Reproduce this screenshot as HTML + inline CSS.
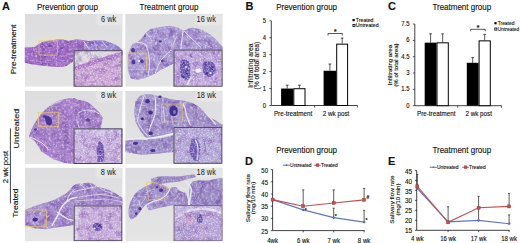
<!DOCTYPE html>
<html><head><meta charset="utf-8"><style>
html,body{margin:0;padding:0;background:#fff;}
body{width:520px;height:243px;overflow:hidden;}
svg{display:block;}
text{font-family:"Liberation Sans",sans-serif;stroke:#222;stroke-width:0.12px;paint-order:stroke;}
</style></head><body>
<svg width="520" height="243" viewBox="0 0 520 243" font-family="Liberation Sans, sans-serif">
<defs>
<linearGradient id="bgg" x1="0" y1="0" x2="0" y2="1"><stop offset="0" stop-color="#dddddf"/><stop offset="1" stop-color="#e5e5e6"/></linearGradient>
<filter id="spk" filterUnits="userSpaceOnUse" x="0" y="0" width="520" height="243" color-interpolation-filters="sRGB">
 <feTurbulence type="fractalNoise" baseFrequency="0.13" numOctaves="2" seed="7" result="lf"/>
 <feColorMatrix in="lf" type="matrix" values="0 0 0 0 0.42  0 0 0 0 0.25  0 0 0 0 0.62  1.5 0 0 0 -0.62" result="lfd"/>
 <feComposite in="lfd" in2="SourceAlpha" operator="in" result="lfd2"/>
 <feTurbulence type="fractalNoise" baseFrequency="0.45" numOctaves="2" seed="4" result="n"/>
 <feColorMatrix in="n" type="matrix" values="0 0 0 0 1  0 0 0 0 0.97  0 0 0 0 1  0 0 1.3 0 -0.6" result="w"/>
 <feComposite in="w" in2="SourceAlpha" operator="in" result="w2"/>
 <feColorMatrix in="n" type="matrix" values="0 0 0 0 0.4  0 0 0 0 0.25  0 0 0 0 0.6  0.6 0 0 0 -0.33" result="d"/>
 <feComposite in="d" in2="SourceAlpha" operator="in" result="d2"/>
 <feMerge result="m"><feMergeNode in="SourceGraphic"/><feMergeNode in="lfd2"/><feMergeNode in="w2"/><feMergeNode in="d2"/></feMerge>
 <feGaussianBlur in="m" stdDeviation="0.3"/>
</filter>
<filter id="spk2" filterUnits="userSpaceOnUse" x="0" y="0" width="520" height="243" color-interpolation-filters="sRGB">
 <feTurbulence type="fractalNoise" baseFrequency="0.16" numOctaves="2" seed="11" result="lf"/>
 <feColorMatrix in="lf" type="matrix" values="0 0 0 0 0.5  0 0 0 0 0.32  0 0 0 0 0.66  1.4 0 0 0 -0.6" result="lfd"/>
 <feComposite in="lfd" in2="SourceAlpha" operator="in" result="lfd2"/>
 <feTurbulence type="fractalNoise" baseFrequency="0.6" numOctaves="2" seed="9" result="n"/>
 <feColorMatrix in="n" type="matrix" values="0 0 0 0 1  0 0 0 0 0.97  0 0 0 0 1  0 0 1.5 0 -0.66" result="w"/>
 <feComposite in="w" in2="SourceAlpha" operator="in" result="w2"/>
 <feColorMatrix in="n" type="matrix" values="0 0 0 0 0.45  0 0 0 0 0.3  0 0 0 0 0.65  0.6 0 0 0 -0.33" result="d"/>
 <feComposite in="d" in2="SourceAlpha" operator="in" result="d2"/>
 <feMerge result="m"><feMergeNode in="SourceGraphic"/><feMergeNode in="lfd2"/><feMergeNode in="w2"/><feMergeNode in="d2"/></feMerge>
 <feGaussianBlur in="m" stdDeviation="0.3"/>
</filter>
<linearGradient id="g1" gradientUnits="userSpaceOnUse" x1="24" y1="0" x2="123" y2="0"><stop offset="0" stop-color="#a06ac4"/><stop offset="0.55" stop-color="#a26ec6"/><stop offset="0.68" stop-color="#9c88d0"/><stop offset="1" stop-color="#9c8ed2"/></linearGradient>
<filter id="bl1" x="-50%" y="-50%" width="200%" height="200%"><feGaussianBlur stdDeviation="0.6"/></filter>
<filter id="bl2" x="-50%" y="-50%" width="200%" height="200%"><feGaussianBlur stdDeviation="1.2"/></filter>
<linearGradient id="g5" gradientUnits="userSpaceOnUse" x1="24" y1="0" x2="80" y2="0"><stop offset="0" stop-color="#ae9ad2"/><stop offset="0.4" stop-color="#a892ce"/><stop offset="1" stop-color="#a28cca"/></linearGradient>
</defs>
<rect width="520" height="243" fill="#fff"/>
<clipPath id="cp1"><rect x="24.8" y="13.8" width="97.8" height="73.0"/></clipPath>
<g clip-path="url(#cp1)">
<rect x="24.8" y="13.8" width="97.8" height="73.0" fill="url(#bgg)"/>
<ellipse cx="55" cy="39" rx="22" ry="3.5" fill="#e4e2cc" opacity="0.7" filter="url(#bl1)"/>
<g filter="url(#spk)">
<path d="M24.0,47.6 L29.6,47.2 L35.1,46.7 L38.8,43.9 L42.5,42.0 L48.0,40.7 L57.3,39.6 L62.9,39.6 L68.4,41.1 L72.1,40.2 L76.2,39.3 L82.3,39.9 L88.5,41.1 L94.7,40.5 L100.9,39.9 L104.6,40.5 L109.5,42.3 L115.7,44.8 L119.4,47.3 L123.0,50.5 L123.0,55.0 L74.0,55.0 L73.0,61.5 L70.3,63.3 L66.6,66.1 L61.0,67.0 L53.6,66.7 L46.2,66.1 L38.8,65.2 L31.4,64.3 L24.0,62.4 Z" fill="url(#g1)" />
</g>
<path d="M83.6,41.1 L88.5,48.5" fill="none" stroke="#ebe7f2" stroke-width="0.9" />
<path d="M102,41 L107,47.3" fill="none" stroke="#ebe7f2" stroke-width="0.7" />
<path d="M94,41 Q96,45 97,50" fill="none" stroke="#ebe7f2" stroke-width="0.5" />
<path d="M36,61 Q50,64 68,63" fill="none" stroke="#c4a0da" stroke-width="0.6" />
<ellipse cx="50" cy="46" rx="2" ry="1.2" fill="#7a4aa8" filter="url(#bl1)"/>
<ellipse cx="62" cy="48" rx="1.5" ry="1" fill="#7a4aa8" filter="url(#bl1)"/>
<ellipse cx="45" cy="57" rx="1.2" ry="1" fill="#7a4aa8" filter="url(#bl1)"/>
<rect x="39" y="41" width="18.3" height="14.0" fill="none" stroke="#ecc86a" stroke-width="0.8" opacity="0.85"/>
<clipPath id="ic73_50"><rect x="73.6" y="50.2" width="49.0" height="36.6"/></clipPath>
<g clip-path="url(#ic73_50)"><g filter="url(#spk2)">
<rect x="73.6" y="50.2" width="49.0" height="36.6" fill="#cba8d6"/>
<path d="M73.0,50.0 L123.0,50.0 L123.0,51.2 L112.0,54.5 L100.0,58.3 L88.5,62.0 L73.0,67.5 Z" fill="#dbd6e0" />
<path d="M73.0,67.5 L88.5,62.0 L100.0,58.3 L112.0,54.5 L123.0,51.2 L123.0,55.5 L110.0,59.5 L95.0,64.0 L73.0,71.5 Z" fill="#b27ec9" />
</g>
</g>
<rect x="74.1" y="50.7" width="48.0" height="35.6" fill="none" stroke="#4c4458" stroke-width="1"/>
<rect x="96.3" y="13.5" width="26" height="12" rx="3" fill="#e9e9ea" opacity="0.8" filter="url(#bl2)"/>
<text transform="translate(116.30,22.00) scale(1,1.12)" font-size="7.4" text-anchor="end" font-weight="normal" fill="#1a1a1a" style="stroke:none">6 wk</text>
</g>
<clipPath id="cp2"><rect x="125.2" y="13.8" width="97.5" height="73.0"/></clipPath>
<g clip-path="url(#cp2)">
<rect x="125.2" y="13.8" width="97.5" height="73.0" fill="url(#bgg)"/>
<g filter="url(#spk)">
<path d="M132.4,44.0 L129.4,50.0 L127.9,55.9 L127.6,63.3 L128.7,73.6 L130.9,78.5 L138.1,79.7 L144.3,78.2 L150.6,75.8 L155.3,73.5 L160.0,70.3 L164.7,68.0 L169.4,65.6 L173.6,63.5 L173.6,49.5 L224.0,49.5 L224.0,48.0 L220.3,44.6 L216.2,39.7 L210.6,34.8 L205.0,31.3 L198.0,28.5 L192.4,27.8 L188.2,28.5 L185.5,30.0 L182.6,30.6 L178.4,27.8 L170.0,25.7 L163.5,26.6 L156.9,27.4 L150.3,29.0 L145.4,33.2 L140.4,39.7 L137.2,42.2 Z" fill="#ac9ed4" />
</g>
<path d="M137,42.5 Q143,42 146,45 Q149,52 149.5,60 Q150,68 148,76" fill="none" stroke="#ebe7f2" stroke-width="0.9" />
<path d="M155.3,73 Q158,64 162,59 Q166,54 171,50" fill="none" stroke="#ebe7f2" stroke-width="0.9" />
<path d="M183,30.6 Q182,38 181.2,46 L181,50" fill="none" stroke="#ebe7f2" stroke-width="1.0" />
<path d="M184,30.6 Q188,36 193.8,40.4 Q197,44 200.8,47.4" fill="none" stroke="#ebe7f2" stroke-width="1.0" />
<path d="M177,36.2 Q174,41 172.8,46" fill="none" stroke="#ebe7f2" stroke-width="0.7" />
<path d="M203.6,44.6 Q208,46 212,48" fill="none" stroke="#ebe7f2" stroke-width="0.6" />
<path d="M146,33 Q150,37 152,41" fill="none" stroke="#ebe7f2" stroke-width="0.5" />
<ellipse cx="133.5" cy="62" rx="2" ry="2.6" fill="#503a9a" filter="url(#bl1)"/>
<ellipse cx="142" cy="61.3" rx="1.6" ry="2" fill="#503a9a" filter="url(#bl1)"/>
<ellipse cx="133" cy="50.3" rx="2" ry="2.4" fill="#503a9a" filter="url(#bl1)"/>
<ellipse cx="162.3" cy="61" rx="1.3" ry="1.3" fill="#503a9a" filter="url(#bl1)"/>
<ellipse cx="160.2" cy="41.4" rx="1.6" ry="1.2" fill="#503a9a" filter="url(#bl1)"/>
<ellipse cx="145" cy="36" rx="1" ry="0.8" fill="#503a9a" filter="url(#bl1)"/>
<ellipse cx="139" cy="61" rx="1.1" ry="1" fill="#f4f2f8" />
<ellipse cx="156" cy="43" rx="0.9" ry="0.8" fill="#f4f2f8" />
<rect x="127.9" y="53.1" width="18.8" height="16.3" fill="none" stroke="#ecc86a" stroke-width="0.8" opacity="0.85"/>
<clipPath id="ic173_49"><rect x="173.5" y="49.5" width="49.2" height="37.3"/></clipPath>
<g clip-path="url(#ic173_49)"><g filter="url(#spk2)">
<rect x="173.5" y="49.5" width="49.2" height="37.3" fill="#c0aadc"/>
<g filter="url(#bl1)"><path d="M181,60 Q186,58 189,62 Q191,67 190,72 Q191,77 188,80 Q183,80 181,76 Q179,71 180,66 Z" fill="#6a58b0"/>
<path d="M203,62 Q208,60.5 213,62.5 Q216,66 215.5,71 Q213.5,76.5 208.5,77 Q204,75.5 203,71 Q202,66 203,62 Z" fill="#6a58b0"/>
<ellipse cx="184" cy="64" rx="1.6" ry="2" fill="#46308e" />
<ellipse cx="187" cy="72" rx="1.4" ry="2.2" fill="#46308e" />
<ellipse cx="183" cy="77" rx="1.6" ry="1.2" fill="#46308e" />
<ellipse cx="206" cy="64" rx="1.6" ry="1.5" fill="#46308e" />
<ellipse cx="212" cy="68" rx="1.5" ry="2" fill="#46308e" />
<ellipse cx="207" cy="73" rx="1.8" ry="1.5" fill="#46308e" />
</g>
<ellipse cx="191" cy="55.5" rx="1.2" ry="1.2" fill="#5a48a6" />
</g>
<ellipse cx="198.2" cy="70.6" rx="3" ry="2.2" fill="#f4f2f8" filter="url(#bl1)"/>
<ellipse cx="210.5" cy="73" rx="1.1" ry="1" fill="#f4f2f8" />
<ellipse cx="186" cy="67" rx="0.9" ry="0.9" fill="#ece8f6" />
<path d="M191.3,77.4 L186.7,85" fill="none" stroke="#f0eef6" stroke-width="1.1" />
</g>
<rect x="174.0" y="50.0" width="48.2" height="36.3" fill="none" stroke="#4c4458" stroke-width="1"/>
<rect x="195.9" y="13.4" width="26" height="12" rx="3" fill="#e9e9ea" opacity="0.8" filter="url(#bl2)"/>
<text transform="translate(215.90,21.90) scale(1,1.12)" font-size="7.4" text-anchor="end" font-weight="normal" fill="#1a1a1a" style="stroke:none">16 wk</text>
</g>
<clipPath id="cp3"><rect x="24.8" y="90.8" width="97.8" height="73.2"/></clipPath>
<g clip-path="url(#cp3)">
<rect x="24.8" y="90.8" width="97.8" height="73.2" fill="url(#bgg)"/>
<g filter="url(#spk)">
<path d="M29.2,135.3 L32.6,126.7 L37.0,119.5 L41.3,113.7 L47.0,108.0 L52.8,103.6 L58.6,100.8 L67.2,98.5 L74.1,97.9 L78.0,99.8 L84.3,100.8 L89.0,103.0 L93.6,107.0 L97.0,110.0 L99.8,113.1 L102.9,117.8 L101.8,122.0 L101.3,124.0 L101.0,128.6 L123.0,128.6 L123.0,164.0 L74.1,164.0 L64.3,162.7 L52.8,159.0 L41.3,151.2 L35.5,142.0 L29.2,136.8 Z" fill="#a984cc" />
</g>
<path d="M30,137 Q37,140 42,143 Q46,146 48.5,150" fill="none" stroke="#ebe7f2" stroke-width="1.0" />
<path d="M50.5,105.5 Q55,102 61.5,101" fill="none" stroke="#ebe7f2" stroke-width="0.7" />
<path d="M78,113 Q82,110 88,110 Q95,110 99.5,114" fill="none" stroke="#ebe7f2" stroke-width="0.8" />
<path d="M76.5,119.3 Q78,124 79.5,128.6" fill="none" stroke="#ebe7f2" stroke-width="0.7" />
<g filter="url(#bl1)"><path d="M44.5,116 Q47.5,114.5 50,117 Q52.5,119 52,122.5 Q51,126 48.5,125.5 Q46,124.5 45.5,121 Z" fill="#4c3696"/>
<ellipse cx="44.5" cy="116.5" rx="1.6" ry="1.3" fill="#4c3696" />
<ellipse cx="35.5" cy="129.6" rx="1.5" ry="1.3" fill="#5a42a2" />
<ellipse cx="88" cy="120" rx="2" ry="1.8" fill="#5a42a2" />
</g>
<rect x="38.4" y="112.3" width="20.2" height="14.4" fill="none" stroke="#ecc86a" stroke-width="0.8" opacity="0.85"/>
<clipPath id="ic73_128"><rect x="73.5" y="128.4" width="48.9" height="35.6"/></clipPath>
<g clip-path="url(#ic73_128)"><g filter="url(#spk2)">
<rect x="73.5" y="128.4" width="48.9" height="35.6" fill="#c8b4de"/>
<rect x="73" y="128" width="50" height="6" fill="#d0c8e8"/>
<path d="M97.5,141 Q103,140.5 104,149 Q105,157 102.5,162 L97.5,162 Q96,152 97.5,141 Z" fill="#7058b4" filter="url(#bl1)"/>
<ellipse cx="100" cy="150" rx="1.4" ry="3" fill="#4e3a98" filter="url(#bl1)"/>
<path d="M96.7,128.6 L97.3,146" fill="none" stroke="#f0eef6" stroke-width="0.8" />
</g>
</g>
<rect x="74.0" y="128.9" width="47.9" height="34.6" fill="none" stroke="#4c4458" stroke-width="1"/>
<rect x="96.1" y="89.8" width="26" height="12" rx="3" fill="#e9e9ea" opacity="0.8" filter="url(#bl2)"/>
<text transform="translate(116.10,98.30) scale(1,1.12)" font-size="7.4" text-anchor="end" font-weight="normal" fill="#1a1a1a" style="stroke:none">8 wk</text>
</g>
<clipPath id="cp4"><rect x="125.2" y="90.8" width="97.5" height="73.2"/></clipPath>
<g clip-path="url(#cp4)">
<rect x="125.2" y="90.8" width="97.5" height="73.2" fill="url(#bgg)"/>
<g filter="url(#spk)">
<path d="M135.5,101.5 L139.9,95.8 L145.6,94.3 L151.4,94.3 L160.0,96.6 L164.9,97.4 L169.9,99.0 L176.4,99.9 L184.7,100.7 L192.9,103.2 L199.5,107.3 L204.4,111.4 L207.7,115.5 L211.0,118.0 L215.9,120.4 L220.9,123.7 L224.0,125.4 L224.0,127.0 L173.5,127.0 L173.5,133.0 L161.5,136.1 L152.0,138.5 L148.5,140.4 L144.2,136.1 L139.9,130.3 L135.5,121.7 L134.1,113.0 Z" fill="#a498cc" />
<path d="M125.2,140.4 L135.0,139.5 L147.0,140.0 L161.5,138.0 L174.0,135.0 L174.0,152.0 L158.6,153.4 L141.3,154.8 L125.2,152.0 Z" fill="#a094ca" />
</g>
<path d="M154.7,95.1 Q156.5,104 155,114.6 Q153,121 150.5,126 Q149,130 149.5,136" fill="none" stroke="#ebe7f2" stroke-width="1.1" />
<path d="M144.4,95.1 Q141,104 139.5,111 Q138,116 137.5,121 Q140,127 142.3,129.5 Q145,133 147.5,136" fill="none" stroke="#ebe7f2" stroke-width="0.9" />
<path d="M183,103.2 Q186,110 186.3,114.7 Q188,120 190.4,125.4" fill="none" stroke="#ebe7f2" stroke-width="1.1" />
<path d="M204.4,111.4 L216,124.5" fill="none" stroke="#ebe7f2" stroke-width="1.2" />
<path d="M163.3,106.4 Q164,115 164.9,122.9" fill="none" stroke="#ebe7f2" stroke-width="0.6" />
<path d="M171.5,114.7 L173.2,125.4" fill="none" stroke="#ebe7f2" stroke-width="0.6" />
<path d="M125.5,139.8 Q140,137.5 147,138.5 Q155,137.5 161.5,136.3 Q168,134.5 174,133.2" fill="none" stroke="#ecebf2" stroke-width="1.4" />
<g filter="url(#bl1)">
<ellipse cx="147.5" cy="101.3" rx="2.3" ry="2.3" fill="#44308e" />
<ellipse cx="150.6" cy="112.6" rx="2.2" ry="2.1" fill="#44308e" />
<ellipse cx="142.3" cy="118.7" rx="1.7" ry="1.5" fill="#44308e" />
<ellipse cx="150.6" cy="133.2" rx="2.2" ry="1.9" fill="#44308e" />
<ellipse cx="135.5" cy="143.3" rx="2.6" ry="1.6" fill="#44308e" />
<ellipse cx="152.8" cy="150.5" rx="2.6" ry="1.5" fill="#44308e" />
<ellipse cx="160" cy="96.8" rx="1.6" ry="1.2" fill="#44308e" />
<ellipse cx="173.5" cy="111" rx="4.3" ry="5.2" fill="#42308e"/></g>
<ellipse cx="174.5" cy="112" rx="1.4" ry="2" fill="#8a78c4" />
<rect x="161.6" y="104" width="20.6" height="17.2" fill="none" stroke="#ecc86a" stroke-width="0.8" opacity="0.85"/>
<clipPath id="ic173_127"><rect x="173.5" y="127" width="48.9" height="36.8"/></clipPath>
<g clip-path="url(#ic173_127)"><g filter="url(#spk2)">
<rect x="173.5" y="127" width="48.9" height="36.8" fill="#b6acd8"/>
<path d="M192,139 Q198,137 200,146 Q201,155 198,161 Q192,162 190,154 Q189,145 192,139 Z" fill="#6a5cb4" filter="url(#bl1)"/>
<path d="M195.5,140 Q200,148 197,160" fill="none" stroke="#f0eef8" stroke-width="1.2" />
<path d="M202,137 Q206,143 205,152" fill="none" stroke="#8070c0" stroke-width="1" />
</g>
</g>
<rect x="174.0" y="127.5" width="47.9" height="35.8" fill="none" stroke="#56505e" stroke-width="1"/>
<rect x="196.0" y="89.8" width="26" height="12" rx="3" fill="#e9e9ea" opacity="0.8" filter="url(#bl2)"/>
<text transform="translate(216.00,98.30) scale(1,1.12)" font-size="7.4" text-anchor="end" font-weight="normal" fill="#1a1a1a" style="stroke:none">18 wk</text>
</g>
<clipPath id="cp5"><rect x="24.8" y="167.6" width="97.8" height="73.7"/></clipPath>
<g clip-path="url(#cp5)">
<rect x="24.8" y="167.6" width="97.8" height="73.7" fill="url(#bgg)"/>
<g filter="url(#spk)">
<path d="M24.8,210.0 L32.6,206.8 L41.1,204.0 L49.7,201.4 L56.1,198.9 L61.5,196.1 L66.9,192.9 L70.0,189.5 L73.0,186.1 L75.2,184.6 L78.9,183.6 L81.9,183.9 L84.8,183.1 L89.3,182.7 L93.7,183.9 L96.7,186.8 L99.7,187.6 L104.1,188.3 L108.6,189.8 L114.5,192.8 L120.4,196.5 L124.0,198.7 L124.0,205.0 L73.7,205.0 L73.7,225.0 L66.9,226.1 L56.1,227.6 L45.4,229.3 L34.7,228.2 L24.8,225.0 Z" fill="url(#g5)" />
</g>
<path d="M51.9,226 Q55,220 58.3,214.3 Q60,209 62.6,205.7 Q65,203 66.9,201.4 Q70,199 72.2,198.2 Q75,197.5 77.6,197.1" fill="none" stroke="#ebe7f2" stroke-width="1.4" />
<path d="M57,212 Q63,216.5 68,219 Q71,220 74,220.5" fill="none" stroke="#ebe7f2" stroke-width="1.1" />
<path d="M66.9,201.4 Q68,197 70.1,193.9 Q72,191 74.4,189.6" fill="none" stroke="#ebe7f2" stroke-width="0.9" />
<path d="M73,192 Q78,190 84.8,189.1 Q90,188 96,186.8" fill="none" stroke="#ebe7f2" stroke-width="0.8" />
<path d="M78.9,197.2 Q84,196 87.8,195.7 Q94,195 99.7,194.3 Q110,195 118,198" fill="none" stroke="#ebe7f2" stroke-width="0.7" />
<path d="M80,184 Q84,187 86,190" fill="none" stroke="#ebe7f2" stroke-width="0.7" />
<path d="M90,183.5 Q92,186 93,189" fill="none" stroke="#ebe7f2" stroke-width="0.6" />
<path d="M100,188 Q104,192 112,193" fill="none" stroke="#ebe7f2" stroke-width="0.6" />
<path d="M74,201 Q90,200 105,199 Q115,200 123,202" fill="none" stroke="#ebe7f2" stroke-width="0.6" />
<ellipse cx="35.2" cy="219.6" rx="2.7" ry="2.1" fill="#44308e" filter="url(#bl1)"/>
<rect x="25" y="210" width="21.5" height="16.7" fill="none" stroke="#ecc86a" stroke-width="0.8" opacity="0.85"/>
<clipPath id="ic73_205"><rect x="73.7" y="205.4" width="48.7" height="35.9"/></clipPath>
<g clip-path="url(#ic73_205)"><g filter="url(#spk2)">
<rect x="73.7" y="205.4" width="48.7" height="35.9" fill="#c8b0dc"/>
<path d="M73.7,205 L82,205 Q76,218 78,241.3 L73.7,241.3 Z" fill="#dcd6e6" filter="url(#bl1)"/>
<ellipse cx="97.5" cy="226.8" rx="5" ry="4" fill="#6a4eaa" filter="url(#bl1)"/>
<ellipse cx="99" cy="225.5" rx="1.8" ry="1.5" fill="#3e2a88" filter="url(#bl1)"/>
<ellipse cx="94.5" cy="228.5" rx="1.2" ry="0.9" fill="#f0eef6" />
</g>
</g>
<rect x="74.2" y="205.9" width="47.7" height="34.9" fill="none" stroke="#4c4458" stroke-width="1"/>
<rect x="96.0" y="166.5" width="26" height="12" rx="3" fill="#e9e9ea" opacity="0.8" filter="url(#bl2)"/>
<text transform="translate(116.00,175.00) scale(1,1.12)" font-size="7.4" text-anchor="end" font-weight="normal" fill="#1a1a1a" style="stroke:none">8 wk</text>
</g>
<clipPath id="cp6"><rect x="125.2" y="167.6" width="97.5" height="73.7"/></clipPath>
<g clip-path="url(#cp6)">
<rect x="125.2" y="167.6" width="97.5" height="73.7" fill="url(#bgg)"/>
<g filter="url(#spk)">
<path d="M128.9,216.1 L128.4,210.0 L130.2,202.6 L133.9,195.2 L138.8,190.2 L145.0,186.5 L151.2,184.0 L156.1,182.8 L161.0,184.0 L166.0,186.5 L169.7,189.0 L166.0,195.2 L161.0,198.9 L153.6,201.3 L146.2,205.0 L141.3,211.2 L136.3,217.4 L131.4,219.9 Z" fill="#a294cc" />
<path d="M151.2,184.0 L151.2,178.4 L158.6,176.6 L168.4,175.9 L176.6,176.5 L181.5,176.2 L186.4,175.3 L191.4,174.8 L194.7,174.5 L196.0,177.0 L186.4,179.5 L181.5,181.0 L176.6,182.0 L170.0,182.5 L161.0,184.0 Z" fill="#a294ca" />
<path d="M146.2,205.5 L153.6,201.8 L161.0,199.4 L166.0,195.7 L169.7,189.5 L172.0,187.0 L176.0,187.0 L180.0,191.0 L186.0,193.0 L188.0,200.0 L188.0,208.0 L173.6,208.0 L173.4,205.0 L161.0,207.5 L148.7,210.5 Z" fill="#a698cc" />
<path d="M190.0,185.0 L193.0,181.2 L199.6,180.3 L206.2,180.8 L212.8,179.5 L219.3,177.9 L224.0,177.9 L224.0,205.0 L190.0,205.0 L189.0,195.0 Z" fill="#9c8ec6" />
</g>
<path d="M170,189 Q168,193 166,195.2 Q163,198 161,198.9 Q157,200.5 153.6,201.3 Q149,203 146.2,205 Q143,208 141.3,211.2 Q139,215 136.3,217.4 Q134,219 131.4,219.9" fill="none" stroke="#ebe6f0" stroke-width="1.1" />
<path d="M138.8,200.1 Q140,206 142.5,210" fill="none" stroke="#ebe6f0" stroke-width="0.7" />
<path d="M146.2,192.7 Q150,190 155,189" fill="none" stroke="#ebe6f0" stroke-width="0.6" />
<path d="M185.6,181.2 Q190,185 191.4,189.4 Q190.5,196 189.7,200.9 L188.5,208" fill="none" stroke="#ebe6f0" stroke-width="1.6" />
<path d="M176,186 Q181,188 186,190" fill="none" stroke="#ebe6f0" stroke-width="1.2" />
<g filter="url(#bl1)">
<ellipse cx="161" cy="190.2" rx="2" ry="1.8" fill="#4c3696" />
<ellipse cx="140" cy="208.7" rx="1.6" ry="1.6" fill="#4c3696" />
<ellipse cx="136.3" cy="213.7" rx="1.4" ry="1.4" fill="#4c3696" />
<ellipse cx="157" cy="187" rx="1.2" ry="1" fill="#4c3696" />
</g>
<path d="M146.2,182.8 Q154,181 161,185.3 Q166,187 169,189 M148.7,200.1 Q156,199.5 163.5,197.6 M146.2,182.8 L148.7,200.1" fill="none" stroke="#ecc86a" stroke-width="0.8" opacity="0.85"/>
<clipPath id="ic173_205"><rect x="173.6" y="205" width="49.1" height="36.3"/></clipPath>
<g clip-path="url(#ic173_205)"><g filter="url(#spk2)">
<rect x="173.6" y="205" width="49.1" height="36.3" fill="#baa8d8"/>
<path d="M173.6,205 L222.6,205 L222.6,212 Q213,208 200,208 Q185,208.5 173.6,220 Z" fill="#c2b8de"/>
<path d="M173.6,221 Q185,209 200,208.8 Q213,208.6 222.6,213.5" fill="none" stroke="#e8e2f2" stroke-width="2.6" filter="url(#bl1)"/>
<ellipse cx="199.8" cy="219" rx="2.8" ry="4.6" fill="#6a52aa" filter="url(#bl1)"/>
<path d="M185.8,215.8 L193.8,223.8" fill="none" stroke="#d884a6" stroke-width="1.1" />
<path d="M187.5,213.5 Q190,218.5 191,224" fill="none" stroke="#d890b0" stroke-width="0.8" />
<ellipse cx="200.2" cy="215" rx="0.8" ry="0.8" fill="#3a2a80" />
<ellipse cx="185" cy="232" rx="8" ry="4" fill="#a292cc" opacity="0.6" filter="url(#bl2)"/>
</g>
</g>
<rect x="174.1" y="205.5" width="48.1" height="35.3" fill="none" stroke="#787088" stroke-width="1"/>
<rect x="195.9" y="166.6" width="26" height="12" rx="3" fill="#e9e9ea" opacity="0.8" filter="url(#bl2)"/>
<text transform="translate(215.90,175.10) scale(1,1.12)" font-size="7.4" text-anchor="end" font-weight="normal" fill="#1a1a1a" style="stroke:none">18 wk</text>
</g>
<text transform="translate(2.00,10.00) scale(1,1.05)" font-size="11" text-anchor="start" font-weight="bold" fill="#111" >A</text>
<text transform="translate(67.40,9.70) scale(1,1.12)" font-size="8" text-anchor="middle" font-weight="normal" fill="#111" >Prevention group</text>
<text transform="translate(169.00,9.90) scale(1,1.12)" font-size="8" text-anchor="middle" font-weight="normal" fill="#111" >Treatment group</text>
<text transform="translate(15.90,49.30) rotate(-90) scale(1.1,1)" font-size="7.4" text-anchor="middle" fill="#111">Pre-treatment</text>
<text transform="translate(18.60,128.60) rotate(-90) scale(1.22,1)" font-size="7.4" text-anchor="middle" fill="#111">Untreated</text>
<text transform="translate(18.40,203.20) rotate(-90) scale(1.16,1)" font-size="7.4" text-anchor="middle" fill="#111">Treated</text>
<text transform="translate(7.50,167.00) rotate(-90) scale(1.13,1)" font-size="6.8" text-anchor="middle" fill="#111">2 wk post</text>
<line x1="10.4" y1="128.4" x2="10.4" y2="203.5" stroke="#111" stroke-width="0.8"/>
<text transform="translate(306.60,9.80) scale(1,1.12)" font-size="8" text-anchor="middle" font-weight="normal" fill="#111" >Prevention group</text>
<text transform="translate(245.50,10.00) scale(1,1.05)" font-size="11" text-anchor="start" font-weight="bold" fill="#111" >B</text>
<line x1="271.3" y1="20.80" x2="271.3" y2="105.5" stroke="#111" stroke-width="0.8"/>
<line x1="271.3" y1="105.5" x2="357.4" y2="105.5" stroke="#111" stroke-width="0.8"/>
<line x1="269.3" y1="105.50" x2="271.3" y2="105.50" stroke="#111" stroke-width="0.7"/>
<text transform="translate(266.00,107.55) scale(1,1.12)" font-size="5.9" text-anchor="end" font-weight="normal" fill="#111" >0</text>
<line x1="269.3" y1="88.56" x2="271.3" y2="88.56" stroke="#111" stroke-width="0.7"/>
<text transform="translate(266.00,90.61) scale(1,1.12)" font-size="5.9" text-anchor="end" font-weight="normal" fill="#111" >1</text>
<line x1="269.3" y1="71.62" x2="271.3" y2="71.62" stroke="#111" stroke-width="0.7"/>
<text transform="translate(266.00,73.67) scale(1,1.12)" font-size="5.9" text-anchor="end" font-weight="normal" fill="#111" >2</text>
<line x1="269.3" y1="54.68" x2="271.3" y2="54.68" stroke="#111" stroke-width="0.7"/>
<text transform="translate(266.00,56.73) scale(1,1.12)" font-size="5.9" text-anchor="end" font-weight="normal" fill="#111" >3</text>
<line x1="269.3" y1="37.74" x2="271.3" y2="37.74" stroke="#111" stroke-width="0.7"/>
<text transform="translate(266.00,39.79) scale(1,1.12)" font-size="5.9" text-anchor="end" font-weight="normal" fill="#111" >4</text>
<line x1="269.3" y1="20.80" x2="271.3" y2="20.80" stroke="#111" stroke-width="0.7"/>
<text transform="translate(266.00,22.85) scale(1,1.12)" font-size="5.9" text-anchor="end" font-weight="normal" fill="#111" >5</text>
<line x1="314.6" y1="105.5" x2="314.6" y2="107.5" stroke="#111" stroke-width="0.7"/>
<line x1="357.4" y1="105.5" x2="357.4" y2="107.5" stroke="#111" stroke-width="0.7"/>
<line x1="287.20" y1="88.56" x2="287.20" y2="85.17" stroke="#111" stroke-width="0.7"/>
<line x1="285.80" y1="85.17" x2="288.60" y2="85.17" stroke="#111" stroke-width="0.7"/>
<rect x="281.1" y="88.56" width="12.20" height="16.94" fill="#000"/>
<line x1="299.40" y1="88.22" x2="299.40" y2="85.17" stroke="#111" stroke-width="0.7"/>
<line x1="298.00" y1="85.17" x2="300.80" y2="85.17" stroke="#111" stroke-width="0.7"/>
<rect x="293.8" y="88.72" width="11.20" height="16.78" fill="#fff" stroke="#000" stroke-width="1"/>
<line x1="329.90" y1="70.77" x2="329.90" y2="64.00" stroke="#111" stroke-width="0.7"/>
<line x1="328.50" y1="64.00" x2="331.30" y2="64.00" stroke="#111" stroke-width="0.7"/>
<rect x="323.6" y="70.77" width="12.60" height="34.73" fill="#000"/>
<line x1="342.15" y1="43.67" x2="342.15" y2="38.08" stroke="#111" stroke-width="0.7"/>
<line x1="340.75" y1="38.08" x2="343.55" y2="38.08" stroke="#111" stroke-width="0.7"/>
<rect x="336.7" y="44.17" width="10.90" height="61.33" fill="#fff" stroke="#000" stroke-width="1"/>
<text transform="translate(293.10,116.00) scale(1,1.12)" font-size="6.3" text-anchor="middle" font-weight="normal" fill="#111" >Pre-treatment</text>
<text transform="translate(336.00,116.00) scale(1,1.12)" font-size="6.3" text-anchor="middle" font-weight="normal" fill="#111" >2 wk post</text>
<rect x="352.5" y="19.00" width="2.2" height="2.2" fill="#000"/>
<text transform="translate(355.80,21.90) scale(1,1.0)" font-size="5.2" text-anchor="start" font-weight="normal" fill="#111" >Treated</text>
<rect x="352.9" y="24.40" width="2.1" height="2.1" fill="#fff" stroke="#000" stroke-width="0.8"/>
<text transform="translate(355.80,27.20) scale(1,1.0)" font-size="5.2" text-anchor="start" font-weight="normal" fill="#111" >Untreated</text>
<path d="M328,35.5 L328,33.5 L342.3,33.5 L342.3,35.5" fill="none" stroke="#111" stroke-width="0.7"/>
<text transform="translate(335.15,34.30) scale(1,1.12)" font-size="6.5" text-anchor="middle" font-weight="bold" fill="#111" >*</text>
<text transform="translate(252.70,65.60) rotate(-90) scale(1.067,1)" font-size="6.3" text-anchor="middle" fill="#111">Infiltrating area</text>
<text transform="translate(258.90,65.60) rotate(-90) scale(1.067,1)" font-size="6.3" text-anchor="middle" fill="#111">(% of total area)</text>
<text transform="translate(461.80,9.80) scale(1,1.12)" font-size="8" text-anchor="middle" font-weight="normal" fill="#111" >Treatment group</text>
<text transform="translate(388.00,10.00) scale(1,1.05)" font-size="11" text-anchor="start" font-weight="bold" fill="#111" >C</text>
<line x1="414.8" y1="24.02" x2="414.8" y2="105.7" stroke="#111" stroke-width="0.8"/>
<line x1="414.8" y1="105.7" x2="501.5" y2="105.7" stroke="#111" stroke-width="0.8"/>
<line x1="412.8" y1="105.70" x2="414.8" y2="105.70" stroke="#111" stroke-width="0.7"/>
<text transform="translate(409.50,107.75) scale(1,1.12)" font-size="5.9" text-anchor="end" font-weight="normal" fill="#111" >0</text>
<line x1="412.8" y1="89.37" x2="414.8" y2="89.37" stroke="#111" stroke-width="0.7"/>
<text transform="translate(409.50,91.42) scale(1,1.12)" font-size="5.9" text-anchor="end" font-weight="normal" fill="#111" >1.5</text>
<line x1="412.8" y1="73.03" x2="414.8" y2="73.03" stroke="#111" stroke-width="0.7"/>
<text transform="translate(409.50,75.08) scale(1,1.12)" font-size="5.9" text-anchor="end" font-weight="normal" fill="#111" >3</text>
<line x1="412.8" y1="56.70" x2="414.8" y2="56.70" stroke="#111" stroke-width="0.7"/>
<text transform="translate(409.50,58.74) scale(1,1.12)" font-size="5.9" text-anchor="end" font-weight="normal" fill="#111" >4.5</text>
<line x1="412.8" y1="40.36" x2="414.8" y2="40.36" stroke="#111" stroke-width="0.7"/>
<text transform="translate(409.50,42.41) scale(1,1.12)" font-size="5.9" text-anchor="end" font-weight="normal" fill="#111" >6</text>
<line x1="412.8" y1="24.02" x2="414.8" y2="24.02" stroke="#111" stroke-width="0.7"/>
<text transform="translate(409.50,26.07) scale(1,1.12)" font-size="5.9" text-anchor="end" font-weight="normal" fill="#111" >7.5</text>
<line x1="457.7" y1="105.7" x2="457.7" y2="107.7" stroke="#111" stroke-width="0.7"/>
<line x1="501.5" y1="105.7" x2="501.5" y2="107.7" stroke="#111" stroke-width="0.7"/>
<line x1="430.60" y1="42.65" x2="430.60" y2="33.83" stroke="#111" stroke-width="0.7"/>
<line x1="429.20" y1="33.83" x2="432.00" y2="33.83" stroke="#111" stroke-width="0.7"/>
<rect x="424.7" y="42.65" width="11.80" height="63.05" fill="#000"/>
<line x1="442.65" y1="42.32" x2="442.65" y2="33.83" stroke="#111" stroke-width="0.7"/>
<line x1="441.25" y1="33.83" x2="444.05" y2="33.83" stroke="#111" stroke-width="0.7"/>
<rect x="437.0" y="42.82" width="11.30" height="62.88" fill="#fff" stroke="#000" stroke-width="1"/>
<line x1="472.70" y1="62.79" x2="472.70" y2="57.46" stroke="#111" stroke-width="0.7"/>
<line x1="471.30" y1="57.46" x2="474.10" y2="57.46" stroke="#111" stroke-width="0.7"/>
<rect x="466.8" y="62.79" width="11.80" height="42.91" fill="#000"/>
<line x1="484.70" y1="40.36" x2="484.70" y2="34.37" stroke="#111" stroke-width="0.7"/>
<line x1="483.30" y1="34.37" x2="486.10" y2="34.37" stroke="#111" stroke-width="0.7"/>
<rect x="479.1" y="40.86" width="11.20" height="64.84" fill="#fff" stroke="#000" stroke-width="1"/>
<text transform="translate(436.20,116.20) scale(1,1.12)" font-size="6.3" text-anchor="middle" font-weight="normal" fill="#111" >Pre-treatment</text>
<text transform="translate(478.70,116.20) scale(1,1.12)" font-size="6.3" text-anchor="middle" font-weight="normal" fill="#111" >2 wk post</text>
<rect x="494.4" y="22.10" width="2.2" height="2.2" fill="#000"/>
<text transform="translate(497.70,25.00) scale(1,1.0)" font-size="4.9" text-anchor="start" font-weight="normal" fill="#111" >Treated</text>
<rect x="494.79999999999995" y="28.00" width="2.1" height="2.1" fill="#fff" stroke="#000" stroke-width="0.8"/>
<text transform="translate(497.70,30.80) scale(1,1.0)" font-size="4.9" text-anchor="start" font-weight="normal" fill="#111" >Untreated</text>
<path d="M470.7,31.3 L470.7,29.3 L485.2,29.3 L485.2,31.3" fill="none" stroke="#111" stroke-width="0.7"/>
<text transform="translate(477.95,30.10) scale(1,1.12)" font-size="6.5" text-anchor="middle" font-weight="bold" fill="#111" >*</text>
<text transform="translate(391.90,65.10) rotate(-90) scale(1.15,1)" font-size="5.3" text-anchor="middle" fill="#111">Infiltrating area</text>
<text transform="translate(398.00,65.10) rotate(-90) scale(1.15,1)" font-size="5.3" text-anchor="middle" fill="#111">(% of total area)</text>
<text transform="translate(306.60,152.80) scale(1,1.12)" font-size="8" text-anchor="middle" font-weight="normal" fill="#111" >Prevention group</text>
<text transform="translate(245.00,164.50) scale(1,1.05)" font-size="11" text-anchor="start" font-weight="bold" fill="#111" >D</text>
<line x1="272.6" y1="169.60" x2="272.6" y2="230.60" stroke="#111" stroke-width="0.8"/>
<line x1="272.6" y1="230.60" x2="364.6" y2="230.60" stroke="#111" stroke-width="0.8"/>
<line x1="270.8" y1="230.60" x2="272.6" y2="230.60" stroke="#111" stroke-width="0.7"/>
<text transform="translate(268.00,233.56) scale(1,1.05)" font-size="6.0" text-anchor="end" font-weight="normal" fill="#111" >25</text>
<line x1="270.8" y1="218.40" x2="272.6" y2="218.40" stroke="#111" stroke-width="0.7"/>
<text transform="translate(268.00,221.36) scale(1,1.05)" font-size="6.0" text-anchor="end" font-weight="normal" fill="#111" >30</text>
<line x1="270.8" y1="206.20" x2="272.6" y2="206.20" stroke="#111" stroke-width="0.7"/>
<text transform="translate(268.00,209.16) scale(1,1.05)" font-size="6.0" text-anchor="end" font-weight="normal" fill="#111" >35</text>
<line x1="270.8" y1="194.00" x2="272.6" y2="194.00" stroke="#111" stroke-width="0.7"/>
<text transform="translate(268.00,196.96) scale(1,1.05)" font-size="6.0" text-anchor="end" font-weight="normal" fill="#111" >40</text>
<line x1="270.8" y1="181.80" x2="272.6" y2="181.80" stroke="#111" stroke-width="0.7"/>
<text transform="translate(268.00,184.76) scale(1,1.05)" font-size="6.0" text-anchor="end" font-weight="normal" fill="#111" >45</text>
<line x1="270.8" y1="169.60" x2="272.6" y2="169.60" stroke="#111" stroke-width="0.7"/>
<text transform="translate(268.00,172.56) scale(1,1.05)" font-size="6.0" text-anchor="end" font-weight="normal" fill="#111" >50</text>
<line x1="303.2" y1="230.60" x2="303.2" y2="232.40" stroke="#111" stroke-width="0.7"/>
<line x1="333.7" y1="230.60" x2="333.7" y2="232.40" stroke="#111" stroke-width="0.7"/>
<line x1="364.1" y1="230.60" x2="364.1" y2="232.40" stroke="#111" stroke-width="0.7"/>
<text transform="translate(272.60,242.60) scale(1,1.12)" font-size="6.1" text-anchor="middle" font-weight="normal" fill="#111" >4wk</text>
<text transform="translate(303.20,242.60) scale(1,1.12)" font-size="6.1" text-anchor="middle" font-weight="normal" fill="#111" >6 wk</text>
<text transform="translate(333.70,242.60) scale(1,1.12)" font-size="6.1" text-anchor="middle" font-weight="normal" fill="#111" >7 wk</text>
<text transform="translate(364.10,242.60) scale(1,1.12)" font-size="6.1" text-anchor="middle" font-weight="normal" fill="#111" >8 wk</text>
<line x1="303.2" y1="206.20" x2="303.2" y2="189.85" stroke="#262626" stroke-width="0.75"/>
<line x1="302.09999999999997" y1="189.85" x2="304.3" y2="189.85" stroke="#262626" stroke-width="0.7"/>
<line x1="333.7" y1="203.03" x2="333.7" y2="189.85" stroke="#262626" stroke-width="0.75"/>
<line x1="332.59999999999997" y1="189.85" x2="334.8" y2="189.85" stroke="#262626" stroke-width="0.7"/>
<line x1="364.1" y1="199.86" x2="364.1" y2="188.39" stroke="#262626" stroke-width="0.75"/>
<line x1="363.0" y1="188.39" x2="365.20000000000005" y2="188.39" stroke="#262626" stroke-width="0.7"/>
<line x1="333.7" y1="217.67" x2="333.7" y2="208.15" stroke="#262626" stroke-width="0.75"/>
<line x1="332.59999999999997" y1="208.15" x2="334.8" y2="208.15" stroke="#262626" stroke-width="0.7"/>
<line x1="364.1" y1="222.06" x2="364.1" y2="210.35" stroke="#262626" stroke-width="0.75"/>
<line x1="363.0" y1="210.35" x2="365.20000000000005" y2="210.35" stroke="#262626" stroke-width="0.7"/>
<polyline points="272.6,199.61 303.2,209.86 333.7,217.67 364.1,222.06" fill="none" stroke="#6078c0" stroke-width="1.15"/>
<path d="M272.6,198.01 L274.20000000000005,199.61 L272.6,201.21 L271.0,199.61 Z" fill="#4f6fbf"/>
<path d="M303.2,208.26 L304.8,209.86 L303.2,211.46 L301.59999999999997,209.86 Z" fill="#4f6fbf"/>
<path d="M333.7,216.07 L335.3,217.67 L333.7,219.27 L332.09999999999997,217.67 Z" fill="#4f6fbf"/>
<path d="M364.1,220.46 L365.70000000000005,222.06 L364.1,223.66 L362.5,222.06 Z" fill="#4f6fbf"/>
<polyline points="272.6,199.61 303.2,206.20 333.7,203.03 364.1,199.86" fill="none" stroke="#c0504d" stroke-width="1.15"/>
<rect x="271.05" y="198.06" width="3.1" height="3.1" fill="#c0504d" stroke="#963634" stroke-width="0.4"/>
<rect x="301.65" y="204.65" width="3.1" height="3.1" fill="#c0504d" stroke="#963634" stroke-width="0.4"/>
<rect x="332.15" y="201.48" width="3.1" height="3.1" fill="#c0504d" stroke="#963634" stroke-width="0.4"/>
<rect x="362.55" y="198.31" width="3.1" height="3.1" fill="#c0504d" stroke="#963634" stroke-width="0.4"/>
<line x1="282.9" y1="165.2" x2="290.0" y2="165.2" stroke="#5a76c2" stroke-width="1"/>
<path d="M286.5,164.1 L287.59999999999997,165.2 L286.5,166.29999999999998 L285.4,165.2 Z" fill="#4f6fbf"/>
<text transform="translate(290.10,166.95) scale(1,1.0)" font-size="4.9" text-anchor="start" font-weight="normal" fill="#111" >Untreated</text>
<line x1="314.2" y1="165.2" x2="320.8" y2="165.2" stroke="#c0504d" stroke-width="1"/>
<rect x="316.09999999999997" y="163.79999999999998" width="2.8" height="2.8" fill="#c0504d" stroke="#963634" stroke-width="0.4"/>
<text transform="translate(321.00,166.95) scale(1,1.0)" font-size="4.9" text-anchor="start" font-weight="normal" fill="#111" >Treated</text>
<text transform="translate(249.50,198.10) rotate(-90) scale(1.045,1)" font-size="6.1" text-anchor="middle" fill="#111">Salivary flow rate</text>
<text transform="translate(254.60,198.10) rotate(-90) scale(1.0,1)" font-size="6.1" text-anchor="middle" fill="#111">(mg/10 min)</text>
<text transform="translate(305.60,211.50) scale(1,1.12)" font-size="5" text-anchor="middle" font-weight="bold" fill="#111" >*</text>
<text transform="translate(335.60,217.50) scale(1,1.12)" font-size="5" text-anchor="middle" font-weight="bold" fill="#111" >*</text>
<text transform="translate(366.50,221.50) scale(1,1.12)" font-size="5" text-anchor="middle" font-weight="bold" fill="#111" >*</text>
<text transform="translate(368.00,199.00) scale(1,1.12)" font-size="5" text-anchor="middle" font-weight="bold" fill="#111" >#</text>
<text transform="translate(461.80,152.80) scale(1,1.12)" font-size="8" text-anchor="middle" font-weight="normal" fill="#111" >Treatment group</text>
<text transform="translate(388.00,164.50) scale(1,1.05)" font-size="11" text-anchor="start" font-weight="bold" fill="#111" >E</text>
<line x1="416.7" y1="170.45" x2="416.7" y2="230.30" stroke="#111" stroke-width="0.8"/>
<line x1="416.7" y1="230.30" x2="509.6" y2="230.30" stroke="#111" stroke-width="0.8"/>
<line x1="414.9" y1="230.30" x2="416.7" y2="230.30" stroke="#111" stroke-width="0.7"/>
<text transform="translate(412.10,233.40) scale(1,1.05)" font-size="6.4" text-anchor="end" font-weight="normal" fill="#111" >15</text>
<line x1="414.9" y1="220.33" x2="416.7" y2="220.33" stroke="#111" stroke-width="0.7"/>
<text transform="translate(412.10,223.43) scale(1,1.05)" font-size="6.4" text-anchor="end" font-weight="normal" fill="#111" >20</text>
<line x1="414.9" y1="210.35" x2="416.7" y2="210.35" stroke="#111" stroke-width="0.7"/>
<text transform="translate(412.10,213.45) scale(1,1.05)" font-size="6.4" text-anchor="end" font-weight="normal" fill="#111" >25</text>
<line x1="414.9" y1="200.38" x2="416.7" y2="200.38" stroke="#111" stroke-width="0.7"/>
<text transform="translate(412.10,203.48) scale(1,1.05)" font-size="6.4" text-anchor="end" font-weight="normal" fill="#111" >30</text>
<line x1="414.9" y1="190.40" x2="416.7" y2="190.40" stroke="#111" stroke-width="0.7"/>
<text transform="translate(412.10,193.50) scale(1,1.05)" font-size="6.4" text-anchor="end" font-weight="normal" fill="#111" >35</text>
<line x1="414.9" y1="180.43" x2="416.7" y2="180.43" stroke="#111" stroke-width="0.7"/>
<text transform="translate(412.10,183.53) scale(1,1.05)" font-size="6.4" text-anchor="end" font-weight="normal" fill="#111" >40</text>
<line x1="414.9" y1="170.45" x2="416.7" y2="170.45" stroke="#111" stroke-width="0.7"/>
<text transform="translate(412.10,173.55) scale(1,1.05)" font-size="6.4" text-anchor="end" font-weight="normal" fill="#111" >45</text>
<line x1="448.1" y1="230.30" x2="448.1" y2="232.10" stroke="#111" stroke-width="0.7"/>
<line x1="478.6" y1="230.30" x2="478.6" y2="232.10" stroke="#111" stroke-width="0.7"/>
<line x1="509.1" y1="230.30" x2="509.1" y2="232.10" stroke="#111" stroke-width="0.7"/>
<text transform="translate(417.30,241.10) scale(1,1.12)" font-size="6.1" text-anchor="middle" font-weight="normal" fill="#111" >4 wk</text>
<text transform="translate(448.10,241.10) scale(1,1.12)" font-size="6.1" text-anchor="middle" font-weight="normal" fill="#111" >16 wk</text>
<text transform="translate(478.60,241.10) scale(1,1.12)" font-size="6.1" text-anchor="middle" font-weight="normal" fill="#111" >17 wk</text>
<text transform="translate(509.10,241.10) scale(1,1.12)" font-size="6.1" text-anchor="middle" font-weight="normal" fill="#111" >18 wk</text>
<line x1="417.3" y1="186.41" x2="417.3" y2="174.44" stroke="#262626" stroke-width="0.75"/>
<line x1="416.2" y1="174.44" x2="418.40000000000003" y2="174.44" stroke="#262626" stroke-width="0.7"/>
<line x1="448.1" y1="222.32" x2="448.1" y2="206.76" stroke="#262626" stroke-width="0.75"/>
<line x1="447.0" y1="206.76" x2="449.20000000000005" y2="206.76" stroke="#262626" stroke-width="0.7"/>
<line x1="478.6" y1="207.76" x2="478.6" y2="196.39" stroke="#262626" stroke-width="0.75"/>
<line x1="477.5" y1="196.39" x2="479.70000000000005" y2="196.39" stroke="#262626" stroke-width="0.7"/>
<line x1="509.1" y1="206.36" x2="509.1" y2="193.39" stroke="#262626" stroke-width="0.75"/>
<line x1="508.0" y1="193.39" x2="510.20000000000005" y2="193.39" stroke="#262626" stroke-width="0.7"/>
<line x1="478.6" y1="220.33" x2="478.6" y2="208.36" stroke="#262626" stroke-width="0.75"/>
<line x1="477.5" y1="208.36" x2="479.70000000000005" y2="208.36" stroke="#262626" stroke-width="0.7"/>
<line x1="509.1" y1="223.72" x2="509.1" y2="214.94" stroke="#262626" stroke-width="0.75"/>
<line x1="508.0" y1="214.94" x2="510.20000000000005" y2="214.94" stroke="#262626" stroke-width="0.7"/>
<polyline points="417.3,188.41 448.1,221.92 478.6,220.33 509.1,223.72" fill="none" stroke="#6078c0" stroke-width="1.15"/>
<path d="M417.3,186.81 L418.90000000000003,188.41 L417.3,190.00 L415.7,188.41 Z" fill="#4f6fbf"/>
<path d="M448.1,220.32 L449.70000000000005,221.92 L448.1,223.52 L446.5,221.92 Z" fill="#4f6fbf"/>
<path d="M478.6,218.73 L480.20000000000005,220.33 L478.6,221.93 L477.0,220.33 Z" fill="#4f6fbf"/>
<path d="M509.1,222.12 L510.70000000000005,223.72 L509.1,225.32 L507.5,223.72 Z" fill="#4f6fbf"/>
<polyline points="417.3,186.41 448.1,222.32 478.6,207.76 509.1,206.36" fill="none" stroke="#c0504d" stroke-width="1.15"/>
<rect x="415.75" y="184.86" width="3.1" height="3.1" fill="#c0504d" stroke="#963634" stroke-width="0.4"/>
<rect x="446.55" y="220.77" width="3.1" height="3.1" fill="#c0504d" stroke="#963634" stroke-width="0.4"/>
<rect x="477.05" y="206.21" width="3.1" height="3.1" fill="#c0504d" stroke="#963634" stroke-width="0.4"/>
<rect x="507.55" y="204.81" width="3.1" height="3.1" fill="#c0504d" stroke="#963634" stroke-width="0.4"/>
<line x1="429.8" y1="167.25" x2="436.90000000000003" y2="167.25" stroke="#5a76c2" stroke-width="1"/>
<path d="M433.40000000000003,166.15 L434.5,167.25 L433.40000000000003,168.35 L432.3,167.25 Z" fill="#4f6fbf"/>
<text transform="translate(437.00,169.00) scale(1,1.0)" font-size="4.9" text-anchor="start" font-weight="normal" fill="#111" >Untreated</text>
<line x1="462.3" y1="167.25" x2="468.90000000000003" y2="167.25" stroke="#c0504d" stroke-width="1"/>
<rect x="464.2" y="165.85" width="2.8" height="2.8" fill="#c0504d" stroke="#963634" stroke-width="0.4"/>
<text transform="translate(469.10,169.00) scale(1,1.0)" font-size="4.9" text-anchor="start" font-weight="normal" fill="#111" >Treated</text>
<text transform="translate(393.70,199.60) rotate(-90) scale(1.045,1)" font-size="6.1" text-anchor="middle" fill="#111">Salivary flow rate</text>
<text transform="translate(399.50,199.60) rotate(-90) scale(0.985,1)" font-size="6.1" text-anchor="middle" fill="#111">(mg/10 min)</text>
</svg>
</body></html>
